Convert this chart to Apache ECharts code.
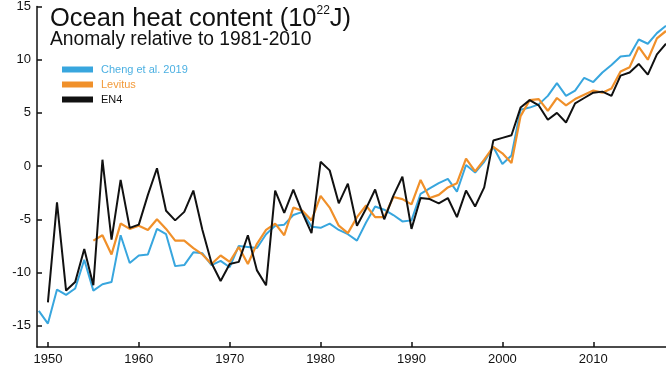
<!DOCTYPE html>
<html>
<head>
<meta charset="utf-8">
<script src="https://cdn.jsdelivr.net/npm/echarts@6/dist/echarts.min.js"></script>
<style>
  html, body { margin: 0; padding: 0; background: #fff; }
  #chart { width: 666px; height: 376px; }
</style>
</head>
<body>
<div id="chart"></div>
<script>
// Ocean heat content anomaly, 10^22 J, relative to 1981-2010
const chengStart = 1949;
const chengValues = [
  -13.6, -14.8, -11.6, -12.1, -11.5, -8.8, -11.7, -11.1, -10.9, -6.5,
  -9.1, -8.4, -8.3, -5.9, -6.4, -9.4, -9.3, -8.1, -8.2, -9.3,
  -8.9, -9.5, -7.5, -7.6, -7.7, -6.4, -5.6, -5.5, -4.6, -4.3,
  -5.7, -5.8, -5.4, -6.0, -6.4, -7.0, -5.3, -3.8, -4.1, -4.6,
  -5.2, -5.1, -2.6, -2.1, -1.6, -1.2, -2.4, 0.1, -0.6, 0.4,
  1.8, 0.2, 1.0, 5.3, 5.5, 5.8, 6.6, 7.8, 6.6, 7.1,
  8.3, 7.9, 8.8, 9.5, 10.3, 10.4, 11.9, 11.5, 12.5, 13.2
];

const levitusStart = 1955;
const levitusValues = [
  -7.0, -6.5, -8.3, -5.4, -5.9, -5.6, -6.0, -5.0, -5.9, -7.0,
  -7.0, -7.7, -8.3, -9.2, -8.4, -9.0, -7.6, -9.2, -7.3, -6.0,
  -5.4, -6.5, -3.9, -4.2, -5.1, -2.8, -3.9, -5.6, -6.3, -4.8,
  -3.7, -4.8, -4.8, -2.9, -3.1, -3.6, -1.3, -3.0, -2.7, -2.0,
  -1.6, 0.7, -0.5, 0.6, 1.8, 1.2, 0.3, 4.7, 6.2, 6.3,
  5.2, 6.4, 5.7, 6.3, 6.7, 7.1, 6.9, 7.3, 8.9, 9.3,
  11.2, 10.0, 12.0, 12.7
];

const en4Start = 1950;
const en4Values = [
  -12.8, -3.4, -11.7, -10.9, -7.8, -11.2, 0.6, -6.9, -1.3, -5.8,
  -5.5, -2.7, -0.2, -4.2, -5.1, -4.3, -2.3, -6.0, -9.1, -10.8,
  -9.2, -9.0, -6.5, -9.8, -11.2, -2.3, -4.4, -2.2, -4.4, -6.3,
  0.4, -0.4, -3.5, -1.65, -5.6, -4.0, -2.2, -5.0, -2.8, -1.0,
  -5.9, -3.0, -3.1, -3.5, -3.0, -4.8, -2.3, -3.8, -2.0, 2.4,
  2.65, 2.9, 5.5, 6.2, 5.7, 4.35, 5.0, 4.1, 5.9, 6.4,
  6.9, 7.0, 6.6, 8.5, 8.8, 9.6, 8.6, 10.5, 11.5
];

const seriesNames = ['Cheng et al. 2019', 'Levitus', 'EN4'];
const xTicks = [1950, 1960, 1970, 1980, 1990, 2000, 2010];
const yTicks = [-15, -10, -5, 0, 5, 10, 15];

function toPairs(start, values) {
  return values.map((v, i) => [start + i, v]);
}

const FONT = '"Liberation Sans", Arial, Helvetica, sans-serif';
const BLUE = '#38a6de';
const ORANGE = '#f0902a';
const BLACK = '#111111';

const chart = echarts.init(document.getElementById('chart'), null, { renderer: 'canvas' });

chart.setOption({
  animation: false,
  backgroundColor: '#ffffff',
  textStyle: { fontFamily: FONT },
  grid: { left: 37, right: 0, top: 6, bottom: 29, containLabel: false },
  graphic: [
    {
      type: 'text',
      left: 50,
      top: 4,
      style: {
        text: '{a|Ocean heat content (10}{s|22}{a|J)}',
        rich: {
          a: { fontSize: 25.5, fontFamily: FONT, fill: '#111', verticalAlign: 'bottom', lineHeight: 28 },
          s: { fontSize: 12, fontFamily: FONT, fill: '#111', verticalAlign: 'top', lineHeight: 28, padding: [1, 0, 0, 0] }
        }
      }
    },
    {
      type: 'text',
      left: 50,
      top: 30,
      style: {
        text: 'Anomaly relative to 1981-2010',
        fontSize: 19.3,
        fontFamily: FONT,
        fill: '#111'
      }
    }
  ],
  legend: {
    orient: 'vertical',
    left: 57,
    top: 58,
    itemWidth: 31,
    itemHeight: 6,
    itemGap: 2,
    icon: 'rect',
    textStyle: { fontSize: 11, fontFamily: FONT, lineHeight: 13, padding: [0, 0, 0, 3] },
    data: [
      { name: seriesNames[0], textStyle: { color: '#4cb0e2' } },
      { name: seriesNames[1], textStyle: { color: '#f29a3a' } },
      { name: seriesNames[2], textStyle: { color: '#111' } }
    ]
  },
  xAxis: {
    type: 'value',
    min: 1948.8,
    max: 2018,
    axisLine: { show: true, onZero: false, lineStyle: { color: '#111', width: 1.5 } },
    axisTick: { show: true, inside: true, length: 5, customValues: xTicks, lineStyle: { color: '#111', width: 1.5 } },
    axisLabel: {
      customValues: xTicks,
      fontSize: 13,
      color: '#111',
      margin: 6,
      fontFamily: FONT,
      formatter: (v) => String(v)
    },
    splitLine: { show: false }
  },
  yAxis: {
    type: 'value',
    min: -17,
    max: 15,
    axisLine: { show: true, onZero: false, lineStyle: { color: '#111', width: 1.5 } },
    axisTick: { show: true, inside: true, length: 5, customValues: yTicks, lineStyle: { color: '#111', width: 1.5 } },
    axisLabel: { customValues: yTicks, fontSize: 13, color: '#111', margin: 6, fontFamily: FONT },
    splitLine: { show: false }
  },
  series: [
    {
      name: seriesNames[0],
      type: 'line',
      data: toPairs(chengStart, chengValues),
      showSymbol: false,
      symbol: 'none',
      color: BLUE,
      lineStyle: { color: BLUE, width: 2 },
      z: 2
    },
    {
      name: seriesNames[1],
      type: 'line',
      data: toPairs(levitusStart, levitusValues),
      showSymbol: false,
      symbol: 'none',
      color: ORANGE,
      lineStyle: { color: ORANGE, width: 2.2 },
      z: 3
    },
    {
      name: seriesNames[2],
      type: 'line',
      data: toPairs(en4Start, en4Values),
      showSymbol: false,
      symbol: 'none',
      color: BLACK,
      lineStyle: { color: BLACK, width: 2 },
      z: 4
    }
  ]
});
</script>
</body>
</html>
